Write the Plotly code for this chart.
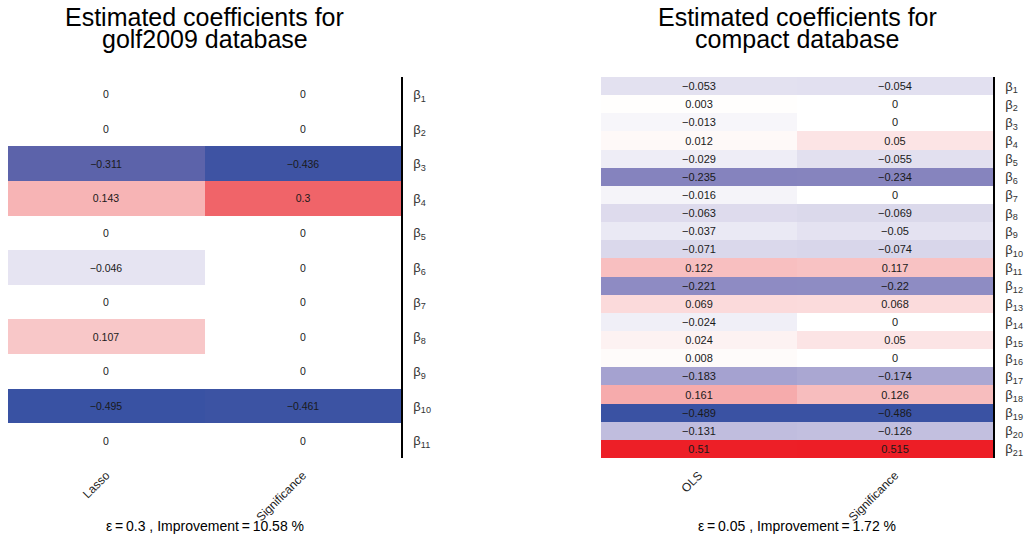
import plotly.graph_objects as go

W, H = 1026, 537

# ---------------- data ----------------
left_methods = ["Lasso", "Significance"]
left_n = 11
left_lasso = [0, 0, -0.311, 0.143, 0, -0.046, 0, 0.107, 0, -0.495, 0]
left_signif = [0, 0, -0.436, 0.3, 0, 0, 0, 0, 0, -0.461, 0]

right_methods = ["OLS", "Significance"]
right_n = 21
right_ols = [-0.053, 0.003, -0.013, 0.012, -0.029, -0.235, -0.016, -0.063, -0.037, -0.071,
             0.122, -0.221, 0.069, -0.024, 0.024, 0.008, -0.183, 0.161, -0.489, -0.131, 0.51]
right_signif = [-0.054, 0, 0, 0.05, -0.055, -0.234, 0, -0.069, -0.05, -0.074,
                0.117, -0.22, 0.068, 0, 0.05, 0, -0.174, 0.126, -0.486, -0.126, 0.515]

left_title = ["Estimated coefficients for", "golf2009 database"]
right_title = ["Estimated coefficients for", "compact database"]
TS = "\u2009"
left_caption = "\u03b5" + TS + "=" + TS + "0.3 , Improvement" + TS + "=" + TS + "10.58 %"
right_caption = "\u03b5" + TS + "=" + TS + "0.05 , Improvement" + TS + "=" + TS + "1.72 %"

# ---------------- style ----------------
FONT = "Liberation Sans, Arial, Helvetica, sans-serif"
ZMIN, ZMAX = -0.52, 0.52
stops = [
    (-0.52, (55, 82, 163)),
    (-0.436, (62, 83, 163)),
    (-0.311, (92, 99, 170)),
    (-0.235, (133, 131, 190)),
    (-0.183, (165, 162, 208)),
    (-0.131, (192, 189, 222)),
    (-0.07, (218, 216, 235)),
    (-0.046, (230, 228, 242)),
    (-0.02, (242, 241, 248)),
    (0.0, (255, 255, 255)),
    (0.01, (254, 250, 249)),
    (0.05, (252, 228, 229)),
    (0.107, (248, 199, 200)),
    (0.143, (247, 180, 181)),
    (0.3, (240, 100, 105)),
    (0.52, (237, 28, 36)),
]
colorscale = [[(v - ZMIN) / (ZMAX - ZMIN), "rgb(%d,%d,%d)" % c] for v, c in stops]


def fmt(v):
    s = "%g" % v
    return s.replace("-", "\u2212")


def beta_labels(n):
    return ["\u03b2<sub>%d</sub>" % (i + 1) for i in range(n)]


fig = go.Figure()


def add_panel(cols, methods, n, xaxis, yaxis, textsize):
    ylab = beta_labels(n)
    z = [[cols[0][i], cols[1][i]] for i in range(n)]
    text = [[fmt(cols[0][i]), fmt(cols[1][i])] for i in range(n)]
    fig.add_trace(go.Heatmap(
        z=z, x=methods, y=ylab, text=text, texttemplate="%{text}",
        textfont=dict(family=FONT, size=textsize, color="#1a1a1a"),
        colorscale=colorscale, zmin=ZMIN, zmax=ZMAX, showscale=False,
        xaxis=xaxis, yaxis=yaxis, hoverinfo="skip",
    ))


add_panel([left_lasso, left_signif], left_methods, left_n, "x", "y", 10.5)
add_panel([right_ols, right_signif], right_methods, right_n, "x2", "y2", 11)

ydom = [79 / H, 460 / H]
common_x = dict(showgrid=False, zeroline=False, showline=False, ticks="",
                tickangle=-45, ticklabelstandoff=7,
                tickfont=dict(family=FONT, size=12, color="#222"))
common_y = dict(showgrid=False, zeroline=False, showline=True, linecolor="black",
                linewidth=1.5, side="right", ticks="", autorange="reversed",
                ticklabelstandoff=8, tickfont=dict(family=FONT, size=13, color="#333"))

fig.update_layout(
    width=W, height=H,
    margin=dict(l=0, r=0, t=0, b=0),
    paper_bgcolor="white", plot_bgcolor="white",
    xaxis=dict(domain=[8 / W, 401 / W], anchor="y", **common_x),
    yaxis=dict(domain=ydom, anchor="x", **common_y),
    xaxis2=dict(domain=[601 / W, 993 / W], anchor="y2", **common_x),
    yaxis2=dict(domain=ydom, anchor="x2", **common_y),
    font=dict(family=FONT),
)

annots = []
for cx, title, cap in [(204.5, left_title, left_caption), (797, right_title, right_caption)]:
    for k, (line, yc) in enumerate(zip(title, [17, 39])):
        annots.append(dict(text=line, x=cx / W, y=1 - yc / H, xref="paper", yref="paper",
                           xanchor="center", yanchor="middle", showarrow=False,
                           font=dict(family=FONT, size=25, color="black")))
    annots.append(dict(text=cap, x=cx / W, y=1 - 526 / H, xref="paper", yref="paper",
                       xanchor="center", yanchor="middle", showarrow=False,
                       font=dict(family=FONT, size=14, color="black")))
fig.update_layout(annotations=annots)

fig.write_html("out.html")
